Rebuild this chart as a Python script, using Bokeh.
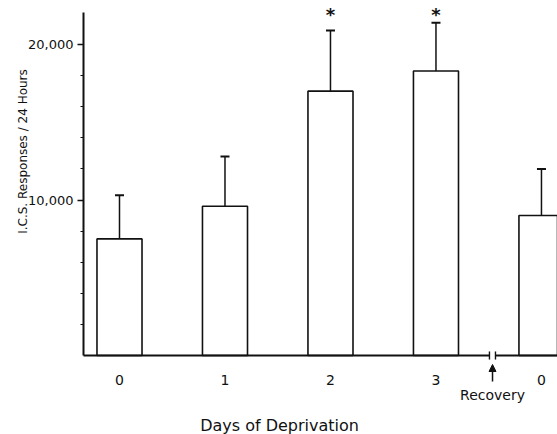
import math
from bokeh.plotting import figure
from bokeh.models import (Range1d, LinearAxis, FixedTicker, NumeralTickFormatter,
                          ColumnDataSource, Whisker, TeeHead, Arrow, NormalHead, Label)
from bokeh.embed import file_html
from bokeh.resources import INLINE
from bokeh.core.properties import value

# ---------------- data ----------------
tick_labels = ["0", "1", "2", "3", "0"]          # days of deprivation, last = recovery day 0
positions = [0, 1, 2, 3, 4]
responses = [7500, 9600, 17000, 18300, 9000]     # mean I.C.S. responses / 24 h
error_top = [10300, 12800, 20900, 21400, 12000]  # mean + error
significant = [False, False, True, True, False]
y_major = [10000, 20000]
y_minor = [2000, 4000, 6000, 8000, 12000, 14000, 16000, 18000]
x_title = "Days of Deprivation"
y_title = "I.C.S. Responses / 24 Hours"
recovery_label = "Recovery"

# ---------------- layout / style ----------------
INK = "#111111"
FONT_NAME = "DejaVu Sans"
FONT = value(FONT_NAME)
W, H = 557, 434
X0, X1 = -1.128, 4.152
Y0, Y1 = -5080, 22830
yaxis_x = -0.341
break_left, break_mid, break_right = 3.507, 3.536, 3.564
bar_width = 0.427
asterisk_y = 21900

p = figure(width=W, height=H, output_backend="svg", toolbar_location=None,
           x_range=Range1d(X0, X1), y_range=Range1d(Y0, Y1),
           x_axis_type=None, y_axis_type=None,
           min_border=0, min_border_left=0, min_border_right=0,
           min_border_top=0, min_border_bottom=0)
p.outline_line_color = None
p.background_fill_color = "white"
p.border_fill_color = "white"
p.grid.visible = False

src = ColumnDataSource(dict(x=positions, top=responses, upper=error_top))

# bars
p.vbar(x="x", top="top", bottom=0, width=bar_width, source=src,
       fill_color="white", line_color=INK, line_width=1.6)

# error bars (upper only)
p.add_layout(Whisker(source=src, base="x", lower="top", upper="upper", dimension="height",
                     line_color=INK, line_width=1.5,
                     upper_head=TeeHead(size=9, line_color=INK, line_width=2),
                     lower_head=None))

# significance asterisks
sx = [x for x, s in zip(positions, significant) if s]
p.text(x=sx, y=[asterisk_y] * len(sx), text=["*"] * len(sx),
       text_font=FONT, text_font_size="18px", text_font_style="bold",
       text_align="center", text_baseline="middle", text_color=INK)

# baseline with axis break
p.segment(x0=[yaxis_x, break_right], y0=[0, 0], x1=[break_left, X1 + 0.2], y1=[0, 0],
          line_color=INK, line_width=2)
p.segment(x0=[break_left, break_right], y0=[-260, -260], x1=[break_left, break_right], y1=[260, 260],
          line_color=INK, line_width=1.4)

# recovery arrow + label
p.add_layout(Arrow(end=NormalHead(size=7, fill_color=INK, line_color=INK),
                   x_start=break_mid, y_start=-1672, x_end=break_mid, y_end=-579,
                   line_color=INK, line_width=1.5))
p.text(x=[break_mid], y=[-2508], text=[recovery_label], text_font=FONT,
       text_font_size="14px", text_align="center", text_baseline="middle", text_color=INK)

# y axis
yaxis = LinearAxis(fixed_location=yaxis_x, bounds=(0, 22050),
                   ticker=FixedTicker(ticks=y_major, minor_ticks=y_minor),
                   formatter=NumeralTickFormatter(format="0,0"),
                   axis_line_color=INK, axis_line_width=2,
                   major_tick_line_color=INK, major_tick_line_width=1.5,
                   major_tick_in=0, major_tick_out=6,
                   minor_tick_line_color=INK, minor_tick_line_width=1.2,
                   minor_tick_in=0, minor_tick_out=3,
                   major_label_standoff=4,
                   major_label_text_font=FONT_NAME, major_label_text_font_size="13px",
                   major_label_text_color=INK)
p.add_layout(yaxis, "left")

# x axis (labels only)
xaxis = LinearAxis(fixed_location=0,
                   ticker=FixedTicker(ticks=positions),
                   major_label_overrides={pos: lab for pos, lab in zip(positions, tick_labels)},
                   axis_line_color=None, major_tick_line_color=None, minor_tick_line_color=None,
                   major_label_standoff=13,
                   major_label_text_font=FONT_NAME, major_label_text_font_size="14px",
                   major_label_text_color=INK)
p.add_layout(xaxis, "below")

# axis titles
p.add_layout(Label(x=-0.919, y=13119, text=y_title, angle=math.pi / 2,
                   text_align="center", text_baseline="middle",
                   text_font=FONT_NAME, text_font_size="12px", text_color=INK))
p.add_layout(Label(x=1.517, y=-4502, text=x_title,
                   text_align="center", text_baseline="middle",
                   text_font=FONT_NAME, text_font_size="16px", text_color=INK))

open("out.html", "w").write(file_html(p, INLINE))
